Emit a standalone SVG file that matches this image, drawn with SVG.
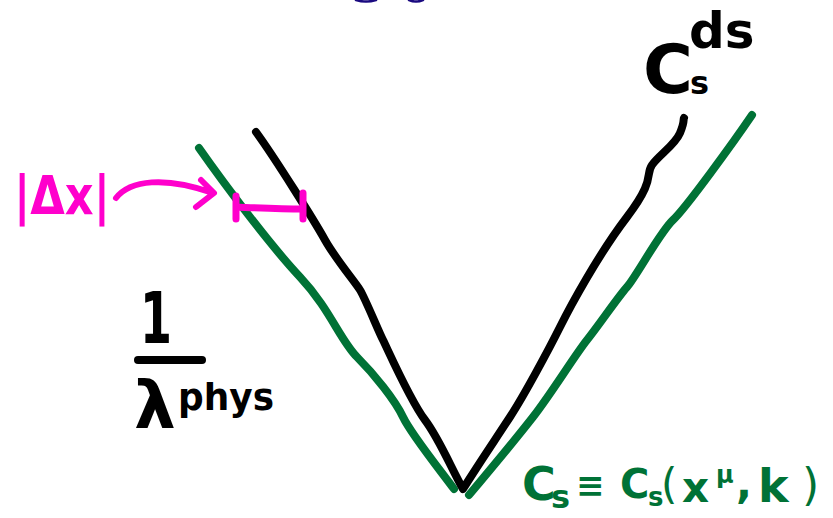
<svg xmlns="http://www.w3.org/2000/svg" width="833" height="518" viewBox="0 0 833 518">
<style>
.ln{fill:none;stroke-linecap:round;stroke-linejoin:round}
.blk{stroke:#000;stroke-width:8}
.grn{stroke:#007236;stroke-width:8}
.mag{stroke:#ff00cc;stroke-width:6}
.t{font-family:"DejaVu Sans","Liberation Sans",sans-serif;font-weight:bold}
.tb{fill:#000}
.tg{fill:#007236}
.tm{fill:#ff00cc}
</style>
<rect width="833" height="518" fill="#fff"/>
<g id="top-fragment">
<path class="ln" d="M356,0 Q366,3 376,0" stroke="#1a0a80" stroke-width="2.5"/>
<path class="ln" d="M409,0 Q416,3 423,0" stroke="#1a0a80" stroke-width="2.5"/>
</g>
<g id="curves">
<path id="green-v" class="ln grn" d="M199,148 C225,185 270,245 300,277 S340,340 357,357 S395,400 403,417 S440,470 454,489 M469,495 C490,470 515,440 533,417 S575,355 587,340 S618,297 627,287 S660,232 673,220 S735,140 752,115"/>
<path id="black-v" class="ln blk" d="M256,132 C275,158 315,222 325,240 S355,282 360,290 S378,330 383,340 S410,400 425,420 S452,470 463,489 C478,465 495,440 510,417 S550,347 560,327 S598,255 627,217 S645,175 652,165 S675,145 680,133 S683,120 684,118"/>
</g>
<g id="label-csds">
<text class="t tb" font-size="68"><tspan x="643" y="93">C</tspan><tspan x="690" y="94" font-size="32">s</tspan><tspan x="689" y="48" font-size="50">ds</tspan></text>
</g>
<g id="label-dx">
<text class="t tm" x="14" y="214" font-size="54" textLength="96" lengthAdjust="spacingAndGlyphs" font-weight="normal">|Δx|</text>
<path class="ln mag" d="M116,198 C130,180 165,176 213,193 M201,180 L214,193 L196,207"/>
<path class="ln" stroke="#ff00cc" stroke-width="7" d="M236,196 L236,219 M236,207 C260,208 280,209 303,209 M303,193 L303,219"/>
</g>
<g id="label-lambda">
<text class="t tb" x="140" y="343" font-size="72" textLength="32" lengthAdjust="spacingAndGlyphs" font-weight="normal">1</text>
<path class="ln blk" d="M138,360 L202,360" stroke-width="7"/>
<text class="t tb" font-size="66" font-weight="normal"><tspan x="134" y="428">λ</tspan><tspan x="178" y="410" font-size="38" font-weight="bold" textLength="96" lengthAdjust="spacingAndGlyphs">phys</tspan></text>
</g>
<g id="label-cs">
<text class="t tg" font-size="42"><tspan x="522" y="500" font-size="46">C</tspan><tspan x="551" y="508" font-size="32">s</tspan><tspan x="576" y="497" font-size="34">≡</tspan><tspan x="620" y="498" font-size="40">C</tspan><tspan x="648" y="506" font-size="26">s</tspan><tspan x="661" y="499" font-weight="normal">(</tspan><tspan x="682" y="502">x</tspan><tspan x="716" y="483" font-size="24">μ</tspan><tspan x="736" y="498">,</tspan><tspan x="758" y="502" font-size="46">k</tspan><tspan x="802" y="500" font-size="44" font-weight="normal">)</tspan></text>
</g>
</svg>
